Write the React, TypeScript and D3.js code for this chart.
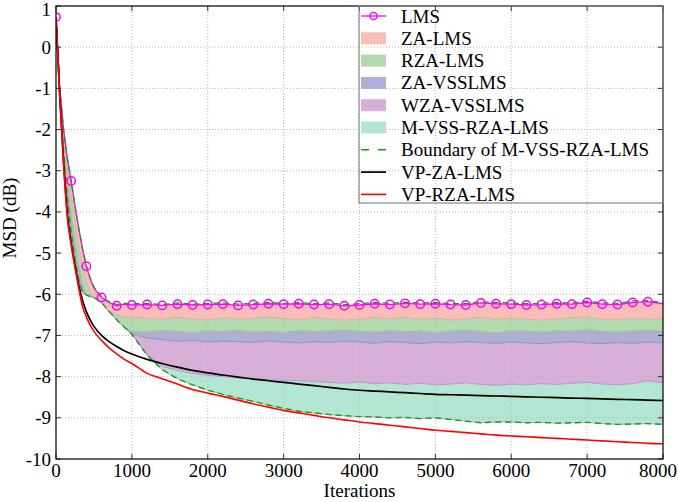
import React from 'react';
import * as d3 from 'd3';

// ---------------- data ----------------
const iterations = [0, 50, 100, 150, 200, 250, 300, 350, 400, 450, 500, 600, 700, 800, 900,
  1000, 1200, 1400, 1600, 1800, 2000, 2200, 2400, 2600, 2800, 3000, 3200, 3400, 3600, 3800,
  4000, 4200, 4400, 4600, 4800, 5000, 5200, 5400, 5600, 5800, 6000, 6200, 6400, 6600, 6800,
  7000, 7200, 7400, 7600, 7800, 8000];

const lms = [0.73, -1.0, -2.0, -2.7, -3.25, -3.85, -4.4, -4.9, -5.32, -5.62, -5.85, -6.08, -6.2, -6.28, -6.24,
  -6.26, -6.25, -6.27, -6.24, -6.26, -6.25, -6.24, -6.27, -6.25, -6.23, -6.24, -6.23, -6.25, -6.24, -6.28,
  -6.26, -6.23, -6.25, -6.22, -6.24, -6.23, -6.25, -6.26, -6.21, -6.23, -6.24, -6.26, -6.25, -6.23, -6.24,
  -6.2, -6.24, -6.25, -6.2, -6.18, -6.23];

const upperBound = [0.73, -1.0, -2.0, -2.7, -3.25, -3.85, -4.4, -4.9, -5.3, -5.6, -5.83, -6.06, -6.18, -6.25, -6.22,
  -6.23, -6.22, -6.25, -6.21, -6.24, -6.22, -6.21, -6.24, -6.22, -6.2, -6.22, -6.2, -6.23, -6.21, -6.25,
  -6.23, -6.2, -6.22, -6.19, -6.21, -6.2, -6.23, -6.23, -6.18, -6.2, -6.21, -6.23, -6.22, -6.2, -6.21,
  -6.17, -6.21, -6.22, -6.16, -6.15, -6.2];

const zaLms = [0.73, -1.05, -2.15, -2.95, -3.6, -4.25, -4.85, -5.35, -5.7, -5.95, -6.05, -6.2, -6.4, -6.5, -6.55,
  -6.56, -6.58, -6.6, -6.56, -6.59, -6.62, -6.57, -6.6, -6.58, -6.55, -6.59, -6.61, -6.57, -6.6, -6.63,
  -6.6, -6.57, -6.59, -6.56, -6.6, -6.58, -6.62, -6.59, -6.57, -6.6, -6.58, -6.6, -6.63, -6.59, -6.57,
  -6.55, -6.6, -6.61, -6.58, -6.6, -6.59];

const rzaLms = [0.73, -1.1, -2.35, -3.3, -4.05, -4.7, -5.3, -5.75, -6.0, -6.05, -6.08, -6.2, -6.42, -6.62, -6.8,
  -6.9, -6.92, -6.88, -6.9, -6.93, -6.89, -6.91, -6.87, -6.92, -6.9, -6.93, -6.88, -6.91, -6.89, -6.86,
  -6.9, -6.92, -6.88, -6.91, -6.89, -6.93, -6.9, -6.87, -6.91, -6.94, -6.89, -6.9, -6.92, -6.88, -6.9,
  -6.86, -6.9, -6.92, -6.89, -6.87, -6.9];

const zaVsslms = [0.73, -1.15, -2.6, -3.7, -4.5, -5.15, -5.65, -5.95, -6.02, -6.05, -6.08, -6.2, -6.42, -6.62, -6.8,
  -6.97, -7.06, -7.1, -7.14, -7.12, -7.16, -7.14, -7.15, -7.17, -7.13, -7.16, -7.18, -7.15, -7.17, -7.14,
  -7.16, -7.19, -7.15, -7.17, -7.2, -7.16, -7.18, -7.15, -7.17, -7.19, -7.16, -7.18, -7.2, -7.17, -7.15,
  -7.18, -7.2, -7.17, -7.19, -7.16, -7.18];

const wzaVsslms = [0.73, -1.15, -2.6, -3.7, -4.5, -5.15, -5.65, -5.95, -6.02, -6.05, -6.08, -6.2, -6.42, -6.62, -6.8,
  -6.97, -7.45, -7.75, -7.85, -7.92, -7.97, -8.0, -8.03, -8.05, -8.07, -8.09, -8.1, -8.12, -8.14, -8.16,
  -8.13, -8.17, -8.15, -8.19, -8.16, -8.2, -8.18, -8.15, -8.19, -8.21, -8.18, -8.2, -8.17, -8.19, -8.16,
  -8.14, -8.18, -8.2, -8.17, -8.1, -8.15];

const lowerBound = [0.73, -1.15, -2.6, -3.7, -4.5, -5.15, -5.65, -5.95, -6.02, -6.05, -6.08, -6.2, -6.42, -6.62, -6.8,
  -6.97, -7.48, -7.83, -8.05, -8.2, -8.33, -8.43, -8.52, -8.6, -8.69, -8.77, -8.84, -8.88, -8.92, -8.95,
  -8.97, -8.98, -9.0, -8.99, -9.02, -9.0, -9.04, -9.08, -9.12, -9.1, -9.1, -9.12, -9.11, -9.13, -9.12,
  -9.11, -9.14, -9.16, -9.15, -9.14, -9.16];

const vpZaLms = [0.73, -1.2, -2.8, -4.05, -4.75, -5.3, -5.78, -6.15, -6.42, -6.62, -6.78, -7.0, -7.15, -7.27, -7.37,
  -7.45, -7.58, -7.68, -7.77, -7.85, -7.91, -7.96, -8.01, -8.06, -8.1, -8.14, -8.18, -8.22, -8.26, -8.3,
  -8.33, -8.35, -8.37, -8.39, -8.41, -8.43, -8.44, -8.45, -8.46, -8.47, -8.48, -8.49, -8.5, -8.51, -8.52,
  -8.53, -8.54, -8.55, -8.56, -8.57, -8.58];

const vpRzaLms = [0.73, -1.2, -2.85, -4.15, -4.8, -5.35, -5.85, -6.3, -6.55, -6.75, -6.9, -7.12, -7.3, -7.45, -7.58,
  -7.68, -7.92, -8.05, -8.18, -8.31, -8.4, -8.48, -8.57, -8.66, -8.74, -8.82, -8.88, -8.94, -9.0, -9.05,
  -9.1, -9.14, -9.18, -9.22, -9.26, -9.3, -9.33, -9.36, -9.39, -9.42, -9.44, -9.46, -9.48, -9.5, -9.52,
  -9.54, -9.56, -9.58, -9.6, -9.62, -9.63];

const xTicks = [0, 1000, 2000, 3000, 4000, 5000, 6000, 7000, 8000];
const yTicks = [1, 0, -1, -2, -3, -4, -5, -6, -7, -8, -9, -10];

const bandNames = ['ZA-LMS', 'RZA-LMS', 'ZA-VSSLMS', 'WZA-VSSLMS', 'M-VSS-RZA-LMS'];
const bandColors = ['#fbbdb7', '#b3d9ae', '#aeaed6', '#d8afd8', '#b4e6d4'];
const bandEdges = ['#e0a8a0', '#9cc48c', '#7f8fc4', '#b58ad0', '#a6a0c0'];

// ---------------- component ----------------
const W = 678;
const H = 502;
const PL = 56, PR = 663, PT = 6, PB = 459;
const FONT = 'Liberation Serif, Times New Roman, serif';

export default function App() {
  const x = d3.scaleLinear().domain([0, 8000]).range([PL, PR]);
  const y = d3.scaleLinear().domain([-10, 1]).range([PB, PT]);

  const line = (vals: number[], curve = d3.curveLinear) =>
    d3.line<number>().x((_, i) => x(iterations[i])).y((v) => y(v)).curve(curve)(vals) || '';

  const area = (top: number[], bottom: number[]) =>
    d3.area<number>()
      .x((_, i) => x(iterations[i]))
      .y0((_, i) => y(bottom[i]))
      .y1((_, i) => y(top[i]))(top.map((v) => v)) || '';

  const stack = [lms, zaLms, rzaLms, zaVsslms, wzaVsslms, lowerBound];

  const markerIdx = iterations
    .map((it, i) => ({ it, i }))
    .filter((d) => d.it % 200 === 0 && d.it < 8000);

  const legendX0 = 361, legendX1 = 386, legendTextX = 401;
  const legendY0 = 16, legendStep = 22.3;
  const legendItems = [
    { name: 'LMS', kind: 'lms' },
    ...bandNames.map((n, i) => ({ name: n, kind: 'patch', color: bandColors[i] })),
    { name: 'Boundary of M-VSS-RZA-LMS', kind: 'dash' },
    { name: 'VP-ZA-LMS', kind: 'black' },
    { name: 'VP-RZA-LMS', kind: 'red' },
  ];

  return (
    <div style={{ position: 'fixed', left: 0, top: 0, width: W, height: H, background: '#fff' }}>
      <svg width={W} height={H} style={{ display: 'block', fontFamily: FONT }}>
        <defs>
          <clipPath id="plotClip">
            <rect x={PL} y={PT} width={PR - PL} height={PB - PT} />
          </clipPath>
        </defs>
        <rect x={0} y={0} width={W} height={H} fill="#fff" />

        {/* bands */}
        <g clipPath="url(#plotClip)">
          {bandColors.map((c, i) => (
            <path key={'band' + i} d={area(stack[i], stack[i + 1])} fill={c} stroke="none" />
          ))}
          {bandEdges.map((c, i) => (
            <path key={'edge' + i} d={line(stack[i + 1])} fill="none" stroke={c} strokeWidth={0.9} />
          ))}
        </g>

        {/* grid */}
        <g>
          {xTicks.filter((t) => t > 0 && t < 8000).map((t) => (
            <line key={'gx' + t} x1={x(t)} x2={x(t)} y1={PT} y2={PB} stroke="#b8b8b8" strokeWidth={1} strokeDasharray="1,2" />
          ))}
          {yTicks.filter((t) => t < 1 && t > -10).map((t) => (
            <line key={'gy' + t} x1={PL} x2={PR} y1={y(t)} y2={y(t)} stroke="#b8b8b8" strokeWidth={1} strokeDasharray="1,2" />
          ))}
        </g>

        {/* lines */}
        <g clipPath="url(#plotClip)">
          <path d={line(lms)} fill="none" stroke="#ff00ff" strokeWidth={1.3} />
          <path d={line(upperBound)} fill="none" stroke="#14a014" strokeWidth={1.3} strokeDasharray="6,4" />
          <path d={line(lowerBound)} fill="none" stroke="#14a014" strokeWidth={1.4} strokeDasharray="6,4" />
          <path d={line(vpZaLms, d3.curveMonotoneX)} fill="none" stroke="#000" strokeWidth={1.7} />
          <path d={line(vpRzaLms, d3.curveMonotoneX)} fill="none" stroke="#ff0000" strokeWidth={1.6} />
          {markerIdx.map(({ i }) => (
            <circle key={'m' + i} cx={x(iterations[i])} cy={y(lms[i])} r={4.2} fill="none" stroke="#ff00ff" strokeWidth={1.5} />
          ))}
        </g>

        {/* frame + ticks */}
        <g stroke="#333" strokeWidth={1}>
          {xTicks.map((t) => (
            <g key={'tx' + t}>
              <line x1={x(t)} x2={x(t)} y1={PB} y2={PB - 5} />
              <line x1={x(t)} x2={x(t)} y1={PT} y2={PT + 5} />
            </g>
          ))}
          {yTicks.map((t) => (
            <g key={'ty' + t}>
              <line x1={PL} x2={PL + 5} y1={y(t)} y2={y(t)} />
              <line x1={PR} x2={PR - 5} y1={y(t)} y2={y(t)} />
            </g>
          ))}
        </g>
        <rect x={PL} y={PT} width={PR - PL} height={PB - PT} fill="none" stroke="#111" strokeWidth={1.3} />

        {/* tick labels */}
        <g fontSize={19} fill="#000">
          {xTicks.map((t, k) => {
            const last = k === xTicks.length - 1;
            return (
              <text key={'lx' + t} x={last ? W - 1 : x(t)} y={477} textAnchor={last ? 'end' : 'middle'}>{String(t)}</text>
            );
          })}
          {yTicks.map((t) => (
            <text key={'ly' + t} x={51} y={Math.max(y(t) + 6.5, 16)} textAnchor="end">{String(t)}</text>
          ))}
          <text x={(PL + PR) / 2} y={497} textAnchor="middle">Iterations</text>
          <text transform={`translate(16,218) rotate(-90)`} textAnchor="middle">MSD (dB)</text>
        </g>

        {/* legend */}
        <g>
          <rect x={359} y={PT} width={PR - 359} height={197} fill="none" stroke="#888" strokeWidth={1.2} />
          {legendItems.map((it: any, k) => {
            const cy = legendY0 + k * legendStep;
            let sym: React.ReactNode = null;
            if (it.kind === 'lms') {
              sym = (
                <g>
                  <line x1={legendX0} x2={legendX1} y1={cy} y2={cy} stroke="#ff00ff" strokeWidth={1.3} />
                  <circle cx={(legendX0 + legendX1) / 2} cy={cy} r={3.6} fill="none" stroke="#ff00ff" strokeWidth={1.4} />
                </g>
              );
            } else if (it.kind === 'patch') {
              sym = <rect x={legendX0} y={cy - 6} width={legendX1 - legendX0} height={12} fill={it.color} />;
            } else if (it.kind === 'dash') {
              sym = <line x1={legendX0} x2={legendX1} y1={cy} y2={cy} stroke="#14a014" strokeWidth={1.4} strokeDasharray="8,9" />;
            } else if (it.kind === 'black') {
              sym = <line x1={legendX0} x2={legendX1} y1={cy} y2={cy} stroke="#000" strokeWidth={1.7} />;
            } else {
              sym = <line x1={legendX0} x2={legendX1} y1={cy} y2={cy} stroke="#ff0000" strokeWidth={1.6} />;
            }
            return (
              <g key={'leg' + k}>
                {sym}
                <text x={legendTextX} y={cy + 6.5} fontSize={19} fill="#000">{it.name}</text>
              </g>
            );
          })}
        </g>
      </svg>
    </div>
  );
}
